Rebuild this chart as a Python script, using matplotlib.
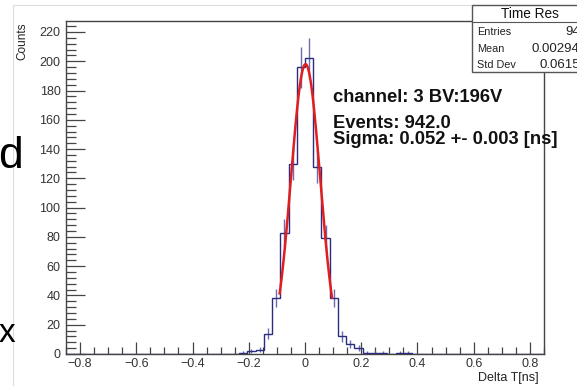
import numpy as np
import matplotlib
matplotlib.use("Agg")
import matplotlib.pyplot as plt
from matplotlib.patches import Rectangle
from matplotlib.ticker import MultipleLocator

plt.rcParams['font.family'] = ['Liberation Sans', 'DejaVu Sans']

# histogram: 58 bins over [-0.85, 0.85], only bins 21..41 are filled
n_bins = 58
x_lo, x_hi = -0.85, 0.85
first_bin = 21
counts = [1, 2, 3, 14, 38, 83, 130, 196, 202, 128, 79, 38, 12, 7, 4, 1, 1, 1, 0, 1, 1]

# gaussian fit
fit_amp = 198.0
fit_mean = 0.002
fit_sigma = 0.052
fit_range = (-0.090, 0.096)

x_ticks = [-0.8, -0.6, -0.4, -0.2, 0.0, 0.2, 0.4, 0.6, 0.8]
x_ticklabels = ['\u22120.8', '\u22120.6', '\u22120.4', '\u22120.2', '0', '0.2', '0.4', '0.6', '0.8']
y_ticks = [0, 20, 40, 60, 80, 100, 120, 140, 160, 180, 200, 220]

stats_title = 'Time Res'
stats_names = ['Entries', 'Mean', 'Std Dev']
stats_values = ['942', '0.002948', '0.06154']

info_lines = ['channel: 3 BV:196V', 'Events: 942.0', 'Sigma: 0.052 +- 0.003 [ns]']

W, H = 577, 386
fig = plt.figure(figsize=(W / 100, H / 100), dpi=100)
ax = fig.add_axes([66 / W, 1 - 354 / H, (544 - 66) / W, (354 - 21) / H])

edges = np.linspace(x_lo, x_hi, n_bins + 1)
values = np.zeros(n_bins)
values[first_bin:first_bin + len(counts)] = counts
centers = 0.5 * (edges[:-1] + edges[1:])

hist_col = '#2b2b80'
ax.stairs(values, edges, color=hist_col, lw=1.0, zorder=3)
nz = values > 0
ax.errorbar(centers[nz], values[nz], yerr=np.sqrt(values[nz]), fmt='none',
            ecolor='#6b6bb0', elinewidth=1.0, capsize=0, zorder=2)

xf = np.linspace(fit_range[0], fit_range[1], 200)
ax.plot(xf, fit_amp * np.exp(-0.5 * ((xf - fit_mean) / fit_sigma) ** 2),
        color='#e01e1e', lw=1.8, zorder=4)

ax.set_xlim(x_lo, x_hi)
ax.set_ylim(0, 227.5)
ax.set_xticks(x_ticks)
ax.set_xticklabels(x_ticklabels)
ax.set_yticks(y_ticks)
ax.xaxis.set_minor_locator(MultipleLocator(0.05))
ax.yaxis.set_minor_locator(MultipleLocator(4))
ax.tick_params(which='both', direction='in', top=False, right=False,
               colors='#444444', labelcolor='#333333', labelsize=9, width=0.9)
ax.tick_params(axis='x', which='major', length=9, pad=3)
ax.tick_params(axis='x', which='minor', length=5)
ax.tick_params(axis='y', which='major', length=14, pad=4)
ax.tick_params(axis='y', which='minor', length=7)
for s in ax.spines.values():
    s.set_color('#444444')
    s.set_linewidth(1.0)

fig.text(22 / W, 1 - 22 / H, 'Counts', rotation=90, ha='center', va='top',
         fontsize=8.5, color='#222222')
fig.text(539 / W, 1 - 378 / H, 'Delta T[ns]', ha='right', va='center',
         fontsize=9, color='#222222')

# fit info text
for txt, yb in zip(info_lines, [102, 127.5, 144]):
    fig.text(333 / W, 1 - yb / H, txt, ha='left', va='baseline',
             fontsize=13.2, fontweight='bold', color='#111111')

# stats box (runs off the right edge, as in the screenshot)
fig.patches.append(Rectangle((471.7 / W, 1 - 71.7 / H), (600 - 471.7) / W, (71.7 - 5) / H,
                             transform=fig.transFigure, facecolor='white',
                             edgecolor='#555555', lw=1.0, zorder=10))
fig.lines.append(plt.Line2D([471.7 / W, 1.05], [1 - 22 / H, 1 - 22 / H],
                            transform=fig.transFigure, color='#555555', lw=0.8, zorder=11))
fig.text(530 / W, 1 - 14 / H, stats_title, ha='center', va='center',
         fontsize=9.8, color='#111111', zorder=12)
for name, val, yb in zip(stats_names, stats_values, [35, 51.5, 67.5]):
    fig.text(477 / W, 1 - yb / H, name, ha='left', va='baseline',
             fontsize=7.8, color='#222222', zorder=12)
    fig.text(587 / W, 1 - yb / H, val, ha='right', va='baseline',
             fontsize=9.5, color='#222222', zorder=12)

# canvas border and slide fragments
fig.lines.append(plt.Line2D([13 / W, 13 / W], [0, 1 - 5 / H], transform=fig.transFigure,
                            color='#dddddd', lw=0.8))
fig.lines.append(plt.Line2D([13 / W, 471.7 / W], [1 - 5 / H, 1 - 5 / H], transform=fig.transFigure,
                            color='#dddddd', lw=0.8))
fig.text(-2 / W, 1 - 168 / H, 'd', ha='left', va='baseline', fontsize=32, color='black')
fig.text(-1 / W, 1 - 342 / H, 'x', ha='left', va='baseline', fontsize=24, color='black')

fig.savefig('out.png', dpi=100)
